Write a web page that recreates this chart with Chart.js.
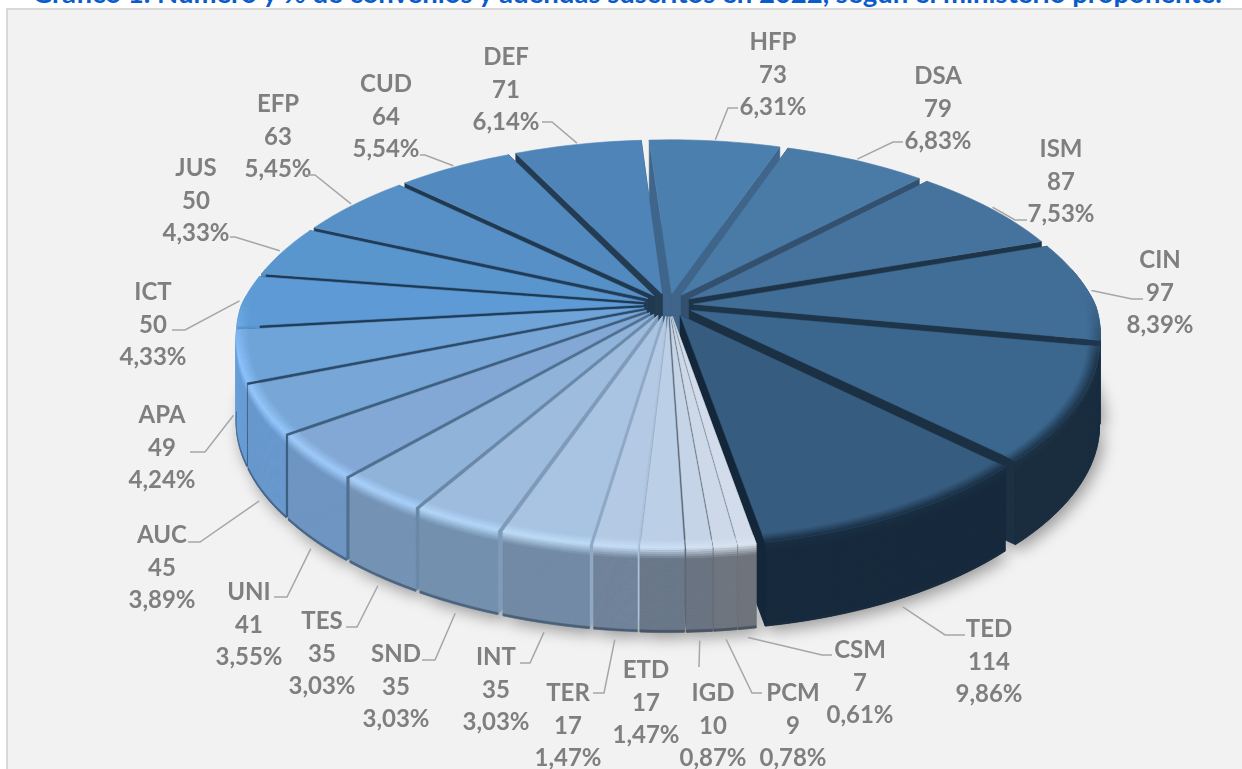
<!DOCTYPE html>
<html lang="es">
<head>
<meta charset="utf-8">
<title>Gráfico 1</title>
<style>
html,body{margin:0;padding:0;background:#fff;overflow:hidden;width:1242px;height:769px}
#panel{position:absolute;left:6px;top:8px;right:0;bottom:0;background:#f2f2f2;border-left:2px solid #d9d9d9;border-top:2px solid #d9d9d9}
#title{position:absolute;left:12px;right:0;top:-22px;text-align:center;white-space:nowrap;font:bold 27.5px Lato,sans-serif;color:#0b5ccb;line-height:30px}
#wrap{position:absolute;left:0;top:0;width:1242px;height:769px}
</style>
<script src="https://cdn.jsdelivr.net/npm/chart.js@4"></script>
</head>
<body>
<div id="panel"></div>
<div id="title">Gráfico 1. Número y % de convenios y adendas suscritos en 2022, según el ministerio proponente.</div>
<div id="wrap"><canvas id="c" width="1242" height="769"></canvas></div>
<script>
// ---- data (clockwise from the top) ----
const categories = ['HFP','DSA','ISM','CIN','','TED','CSM','PCM','IGD','ETD','TER','INT','SND','TES','UNI','AUC','APA','ICT','JUS','EFP','CUD','DEF'];
const values     = [73,79,87,97,108,114,7,9,10,17,17,35,35,35,41,45,49,50,50,63,64,71];

// ---- styles ----
const faceColors  = ['#4b7fae','#4a7aa6','#46739d','#416e97','#3b678f','#365c80','#d2dcea','#cdd8e8','#c5d4e7','#bbcfe6','#b4cae4','#a9c4e2','#9dbcde','#8fb3d9','#84a8d5','#78a6d6','#6fa4d8','#5e9ad5','#5a96ce','#5790c6','#528ac0','#4f84b8'];
const sideColors  = ['#2c4a66','#2c4a66','#26405a','#20384f','#1a2d3f','#172a3d','#6f747c','#6f7680','#6b7482','#6a7889','#6f8298','#728aa5','#7390af','#7593b5','#7097c4','#6a9bd0','#6a9fd8','#5d97d4','#4f89c0','#4b80b4','#477aac','#4474a3'];
const bevelColors = ['#4b7fae','#4a7aa6','#46739d','#2a4a66','#1e3448','#1b3044','#dbe4f0','#d8e3f1','#d4e2f3','#cde0f5','#c6def6','#bedcf7','#b4d7f9','#a9d2fb','#9fccfc','#96c8fd','#8cc4ff','#7fbdf5','#5a96ce','#5790c6','#528ac0','#4f84b8'];
const wallColors  = ['#3f668a','#33506f','#1e3448','#1e3448','#1c3044','#14273a','#6f7680','#626a75','#5d6875','#5f6a78','#aac2dc','#8fa9c5','#7f9bb9','#6a88a8','#4f7090','#3d5f80','#2c4a69','#1f3c58','#1e3954','#203c58','#20394f','#243c52'];

// ---- label layout ----
const labelX     = [773,938,1061,1160,0,989,860,793,713,646,568,496,396,322,249,162,162,153,196,278,386,506];
const labelY     = [75,109,182,293,0,662,683,726,726,703,726,690,687,654,625,568,448,325,201,137,117,90];
const elbowX     = [728,893,1015,1132,0,945,822,752,699,null,604,530,435,357,287,200,205,185,235,315,425,552];
const elbowY     = [108,142,220,299,0,635,655,693,667,null,693,663,660,627,597,542,452,330,237,175,155,122];
const leaderEndX = [738,903,1027,1143,0,965,832,762,699,null,593,520,422,346,274,188,190,172,230,305,420,542];

const ROTATION=-3.8, TILT=0.461, PERSP_Y=0.18, PERSP_BACK=0.2, PERSP_FRONT=0.15, DEPTH=84, RADIUS=402, EXPLODE=25;
const CX=668.5, CY=305;
const total = values.reduce((a,b)=>a+b,0);
const pct = v => (v/total*100).toFixed(2).replace('.',',')+'%';

const rgb = h => [1,3,5].map(i=>parseInt(h.substr(i,2),16));
const mix = (a,b,t)=>{const A=rgb(a),B=rgb(b);return 'rgb('+A.map((x,i)=>Math.round(x+(B[i]-x)*t)).join(',')+')';};

const scene = {
  id:'scene3d',
  beforeDatasetDraw(chart,args){
    const ctx=chart.ctx, arcs=args.meta.data;
    const proj=(ox,oy,z,x,y,R)=>{const px=oy<0?PERSP_BACK:PERSP_FRONT;return [x+ox/(1-px*oy/R),y+TILT*oy/(1-PERSP_Y*oy/R)+DEPTH*z];};
    const geom=arcs.map(a=>{
      const p=a.getProps(['x','y','startAngle','endAngle','outerRadius'],true);
      const off=a.options.offset||0, mid=(p.startAngle+p.endAngle)/2;
      const sx=Math.cos(mid)*off, sy=Math.sin(mid)*off;
      const n=Math.max(3,Math.ceil((p.endAngle-p.startAngle)/0.03));
      const at=(r,t,z)=>proj(sx+r*Math.cos(t),sy+r*Math.sin(t),z,p.x,p.y,p.outerRadius);
      const poly=(pts,fill)=>{ctx.beginPath();pts.forEach((q,i)=>i?ctx.lineTo(q[0],q[1]):ctx.moveTo(q[0],q[1]));ctx.closePath();ctx.fillStyle=fill;ctx.fill();ctx.strokeStyle=fill;ctx.lineWidth=0.6;ctx.stroke();};
      const angles=[];for(let j=0;j<=n;j++)angles.push(p.startAngle+(p.endAngle-p.startAngle)*j/n);
      return {p,mid,n,at,poly,angles};
    });
    ctx.save();
    // soft cast shadow under the base
    ctx.shadowColor='rgba(0,0,0,0.38)';ctx.shadowBlur=16;ctx.shadowOffsetY=5;ctx.shadowOffsetX=4;
    geom.forEach((g,i)=>{
      const R=g.p.outerRadius,pts=[g.at(0,0,1)];
      g.angles.forEach(t=>pts.push(g.at(R,t,1)));
      g.poly(pts,wallColors[i]);
    });
    ctx.shadowColor='transparent';ctx.shadowBlur=0;ctx.shadowOffsetX=0;ctx.shadowOffsetY=0;
    // slices, back to front
    const order=geom.map((g,i)=>i).sort((a,b)=>Math.sin(geom[a].mid)-Math.sin(geom[b].mid));
    order.forEach(i=>{
      const g=geom[i],R=g.p.outerRadius,s=g.p.startAngle,e=g.p.endAngle;
      const side=sideColors[i],bev=bevelColors[i],face=arcs[i].options.backgroundColor;
      // radial walls
      [s,e].forEach(t=>g.poly([g.at(0,0,0),g.at(R,t,0),g.at(R,t,1),g.at(0,0,1)],wallColors[i]));
      // rim wall in shaded bands (camera-facing part only)
      const rim=g.angles.filter(t=>Math.sin(t)>-PERSP_Y-0.02);
      if(rim.length>1){
        const B=40;
        for(let b=0;b<B;b++){
          const z0=b/B,z1=(b+1)/B,mz=(z0+z1)/2;
          let c;
          if(mz<0.13)c=mix(bev,side,Math.min(1,mz/0.13));
          else if(mz>0.975)c=mix(side,'#1c2c3e',0.45);
          else c=side;
          const pts=[];
          rim.forEach(t=>pts.push(g.at(R,t,z0)));
          rim.slice().reverse().forEach(t=>pts.push(g.at(R,t,z1)));
          g.poly(pts,c);
        }
      }
      // top face
      const pts=[g.at(0,0,0)];
      g.angles.forEach(t=>pts.push(g.at(R,t,0)));
      g.poly(pts,face);
      // bevel ring at the rim, strongest at the front
      const rings=6,width=R*0.03;
      for(let r=0;r<rings;r++){
        const r0=R-width+width*r/rings,r1=R-width+width*(r+1)/rings,tt=(r+0.5)/rings;
        for(let j=0;j<g.n;j++){
          const a0=g.angles[j],a1=g.angles[j+1],sn=Math.sin((a0+a1)/2);
          const f=Math.max(0,Math.min(1,(sn+0.05)/0.3));
          if(f<=0)continue;
          g.poly([g.at(r0,a0,0),g.at(r0,a1,0),g.at(r1,a1,0),g.at(r1,a0,0)],mix(face,bev,tt*f));
        }
      }
    });
    // labels and leader lines
    ctx.font='bold 24px Lato, sans-serif';ctx.textAlign='center';ctx.textBaseline='middle';
    geom.forEach((g,i)=>{
      if(!categories[i])return;
      const lh=32.7;
      ctx.fillStyle='#7f7f7f';
      ctx.fillText(categories[i],labelX[i],labelY[i]-lh);
      ctx.fillText(String(values[i]),labelX[i],labelY[i]);
      ctx.fillText(pct(values[i]),labelX[i],labelY[i]+lh);
      if(elbowX[i]==null)return;
      const v=Math.sin(g.mid),z=Math.min(1,Math.max(0,v/0.35));
      const st=g.at(g.p.outerRadius+4,g.mid,z);
      ctx.beginPath();ctx.moveTo(st[0],st[1]+(z>=1?6:0));ctx.lineTo(elbowX[i],elbowY[i]);ctx.lineTo(leaderEndX[i],elbowY[i]);
      ctx.strokeStyle='#a6a6a6';ctx.lineWidth=1.5;ctx.stroke();
    });
    ctx.restore();
    return false;
  }
};

new Chart(document.getElementById('c'),{
  type:'pie',
  data:{labels:categories,datasets:[{data:values,backgroundColor:faceColors,borderWidth:0,offset:EXPLODE,clip:false}]},
  options:{
    responsive:false,animation:false,
    rotation:ROTATION,radius:RADIUS,
    layout:{padding:{left:2*CX-1242,bottom:769-2*CY}},
    plugins:{legend:{display:false},tooltip:{enabled:false},title:{display:false}}
  },
  plugins:[scene]
});
</script>
</body>
</html>
